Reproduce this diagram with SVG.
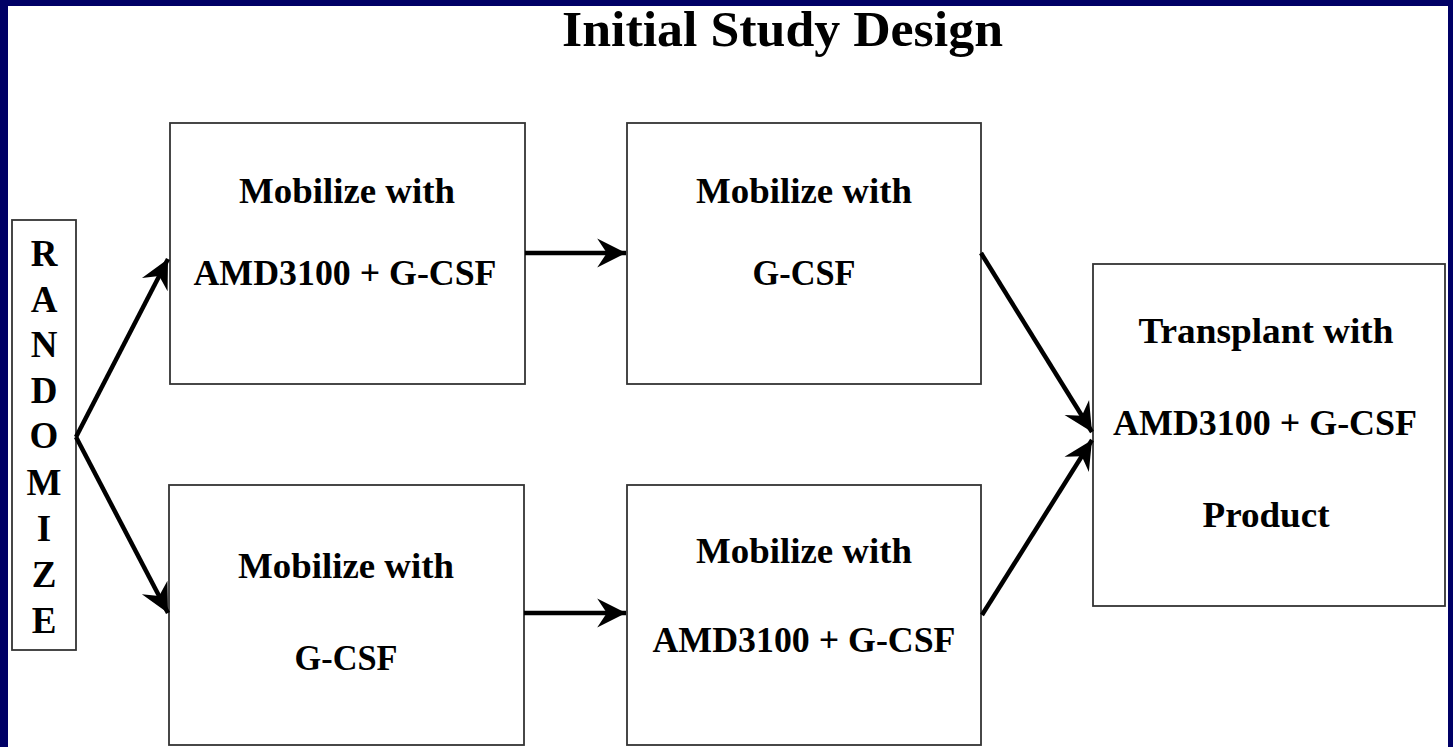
<svg xmlns="http://www.w3.org/2000/svg" width="1453" height="747" viewBox="0 0 1453 747">
<defs>
<style>
.box{fill:#fff;stroke:#333;stroke-width:1.8}
.t{font-family:"Liberation Serif","Times New Roman",serif;font-weight:bold;fill:#000;text-anchor:middle}
.m{font-size:35px}
.conn{stroke:#000;stroke-width:4.5;fill:none;marker-end:url(#ah)}
</style>
<marker id="ah" markerUnits="userSpaceOnUse" markerWidth="32" markerHeight="32" viewBox="-28 -15 30 30" refX="0" refY="0" orient="auto">
<path d="M0,0 L-27,-13.5 L-18,0 L-27,13.5 Z" fill="#000"/>
</marker>
</defs>
<rect x="0" y="0" width="1453" height="747" fill="#000066"/>
<rect x="8" y="6" width="1440" height="741" fill="#fff"/>
<text class="t" x="782.5" y="46" font-size="51" textLength="441" lengthAdjust="spacingAndGlyphs">Initial Study Design</text>
<g id="randomize">
<rect class="box" x="12" y="220" width="64" height="430"/>
<g class="t" font-size="37">
<text x="44" y="266">R</text>
<text x="44" y="312">A</text>
<text x="44" y="357">N</text>
<text x="44" y="403">D</text>
<text x="44" y="448">O</text>
<text x="44" y="495">M</text>
<text x="44" y="541">I</text>
<text x="44" y="587">Z</text>
<text x="44" y="633">E</text>
</g>
</g>
<g id="box1">
<rect class="box" x="170" y="123" width="355" height="261"/>
<text class="t m" x="347" y="203" textLength="216" lengthAdjust="spacingAndGlyphs">Mobilize with</text>
<text class="t m" x="345" y="285" textLength="303" lengthAdjust="spacingAndGlyphs">AMD3100 + G-CSF</text>
</g>
<g id="box2">
<rect class="box" x="627" y="123" width="354" height="261"/>
<text class="t m" x="804" y="203" textLength="216" lengthAdjust="spacingAndGlyphs">Mobilize with</text>
<text class="t m" x="804" y="285" textLength="103" lengthAdjust="spacingAndGlyphs">G-CSF</text>
</g>
<g id="box3">
<rect class="box" x="169" y="485" width="355" height="260"/>
<text class="t m" x="346" y="578" textLength="216" lengthAdjust="spacingAndGlyphs">Mobilize with</text>
<text class="t m" x="346" y="670" textLength="103" lengthAdjust="spacingAndGlyphs">G-CSF</text>
</g>
<g id="box4">
<rect class="box" x="627" y="485" width="354" height="260"/>
<text class="t m" x="804" y="563" textLength="216" lengthAdjust="spacingAndGlyphs">Mobilize with</text>
<text class="t m" x="804" y="652" textLength="303" lengthAdjust="spacingAndGlyphs">AMD3100 + G-CSF</text>
</g>
<g id="transplant">
<rect class="box" x="1093" y="264" width="352" height="342"/>
<text class="t m" x="1266" y="343" textLength="255" lengthAdjust="spacingAndGlyphs">Transplant with</text>
<text class="t m" x="1265" y="435" textLength="304" lengthAdjust="spacingAndGlyphs">AMD3100 + G-CSF</text>
<text class="t m" x="1266" y="527" textLength="127" lengthAdjust="spacingAndGlyphs">Product</text>
</g>
<g id="connectors">
<path class="conn" d="M76,437 L168,259"/>
<path class="conn" d="M76,437 L168,613"/>
<path class="conn" d="M525,253 L626,253"/>
<path class="conn" d="M524,613 L626,613"/>
<path class="conn" d="M981,253 L1092,432"/>
<path class="conn" d="M982,615 L1092,440"/>
</g>
</svg>
